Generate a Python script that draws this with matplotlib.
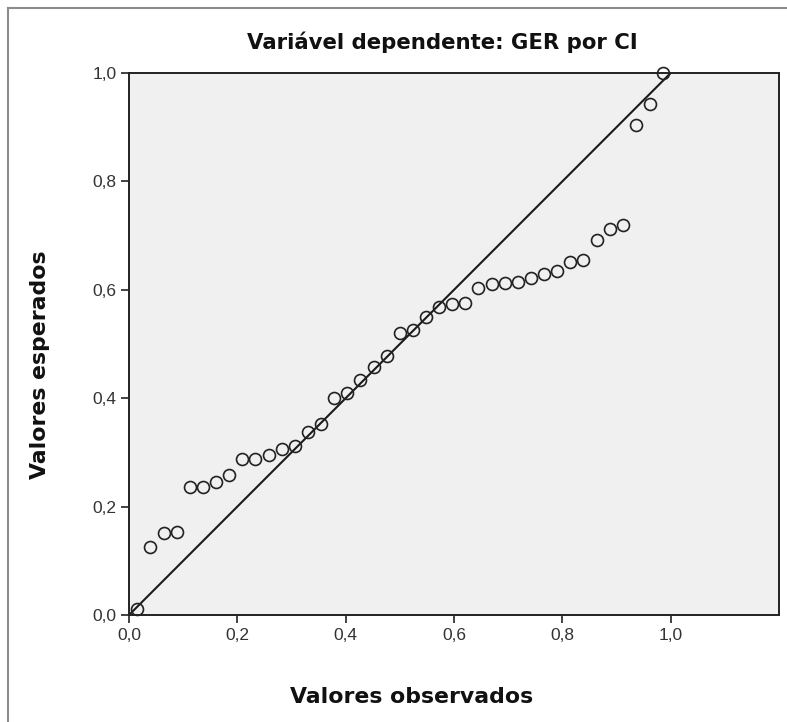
import matplotlib
matplotlib.use("Agg")
import matplotlib.pyplot as plt
from matplotlib.lines import Line2D
from matplotlib.ticker import FuncFormatter

# ── Data ──────────────────────────────────────────────────────────────────────

observed = [0.015, 0.039, 0.064, 0.088, 0.112, 0.136, 0.161, 0.185, 0.209,
            0.233, 0.258, 0.282, 0.306, 0.330, 0.355, 0.379, 0.403, 0.427,
            0.452, 0.476, 0.500, 0.524, 0.548, 0.573, 0.597, 0.621, 0.645,
            0.670, 0.694, 0.718, 0.742, 0.767, 0.791, 0.815, 0.839, 0.864,
            0.888, 0.912, 0.936, 0.961, 0.985]
expected = [0.011, 0.126, 0.152, 0.153, 0.236, 0.237, 0.245, 0.258, 0.287,
            0.288, 0.296, 0.307, 0.312, 0.338, 0.352, 0.400, 0.409, 0.434,
            0.457, 0.478, 0.520, 0.526, 0.549, 0.569, 0.574, 0.575, 0.603,
            0.610, 0.613, 0.614, 0.622, 0.630, 0.635, 0.651, 0.655, 0.691,
            0.713, 0.719, 0.904, 0.942, 1.000]

x_ticks = [0.0, 0.2, 0.4, 0.6, 0.8, 1.0]
y_ticks = [0.0, 0.2, 0.4, 0.6, 0.8, 1.0]

TITLE  = "Variável dependente: GER por CI"
XLABEL = "Valores observados"
YLABEL = "Valores esperados"

# ── Figure ────────────────────────────────────────────────────────────────────

W, H = 787, 722
fig = plt.figure(figsize=(W / 100, H / 100), dpi=100)
fig.patch.set_facecolor("white")

ax = fig.add_axes([129 / W, 1 - 615 / H, (779 - 129) / W, (615 - 73) / H])
ax.set_facecolor("#f0f0f0")

ax.axline((0, 0), slope=1, color="#1a1a1a", linewidth=1.5, zorder=2)
ax.plot(observed, expected, linestyle="none", marker="o", markersize=8.6,
        markerfacecolor="none", markeredgecolor="#222222",
        markeredgewidth=1.2, zorder=3, clip_on=False)

ax.set_xlim(0, 1.2)
ax.set_ylim(0, 1.0)
ax.set_xticks(x_ticks)
ax.set_yticks(y_ticks)
comma = FuncFormatter(lambda v, _: f"{v:.1f}".replace(".", ","))
ax.xaxis.set_major_formatter(comma)
ax.yaxis.set_major_formatter(comma)
ax.tick_params(direction="out", length=6, width=1.2, color="#222222",
               labelsize=12.5, labelcolor="#333333", pad=3,
               labelfontfamily="Liberation Sans")
for sp in ax.spines.values():
    sp.set_color("#222222")
    sp.set_linewidth(1.4)

# titles placed where the original layout has them
lbl = dict(ha="center", va="center", fontweight="bold",
           family="DejaVu Sans", color="#111111")
fig.text(442 / W, 1 - 42 / H, TITLE, fontsize=15.3, **lbl)
fig.text(412 / W, 1 - 697 / H, XLABEL, fontsize=15.8, **lbl)
fig.text(40 / W, 1 - 365 / H, YLABEL, rotation=90, fontsize=15.8, **lbl)

# grey frame on the left and top edges
fig.add_artist(Line2D([8 / W, 8 / W], [0, 1 - 8 / H], color="#8c8c8c",
                      linewidth=1.5, transform=fig.transFigure))
fig.add_artist(Line2D([8 / W, 1], [1 - 8 / H, 1 - 8 / H], color="#8c8c8c",
                      linewidth=1.5, transform=fig.transFigure))

fig.savefig("out.png", dpi=100)
plt.close(fig)
